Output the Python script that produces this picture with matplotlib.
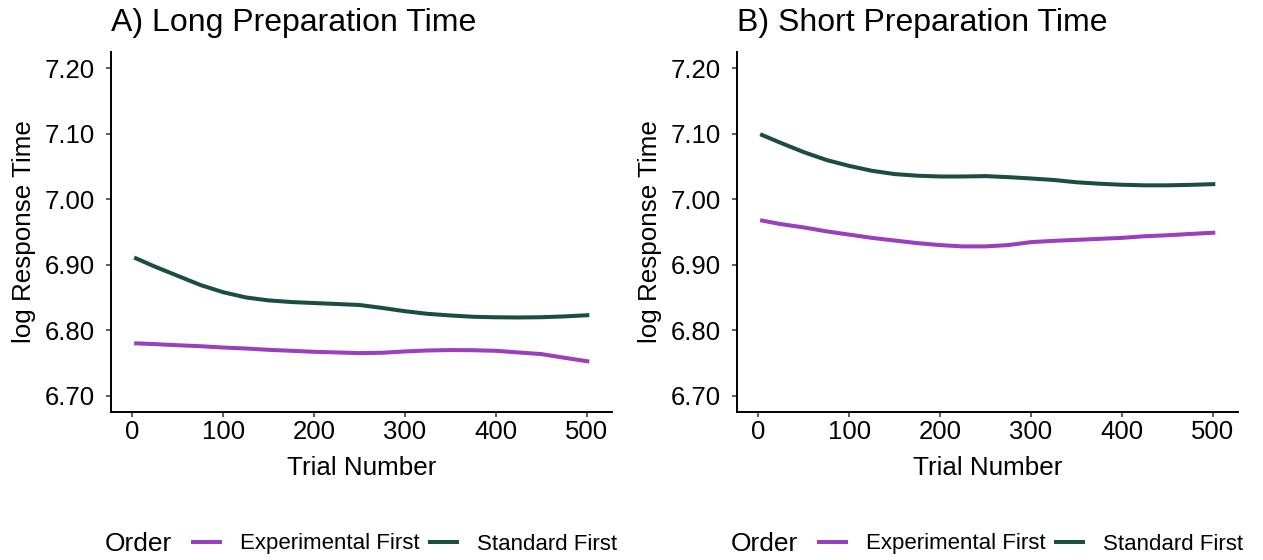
import matplotlib
matplotlib.use("Agg")
import matplotlib.pyplot as plt
from matplotlib.lines import Line2D

plt.rcParams["font.family"] = ["Liberation Sans", "DejaVu Sans"]

# Smoothed log response time by trial number
trials = [2, 25, 50, 75, 100, 125, 150, 175, 200, 225, 250, 275, 300,
          325, 350, 375, 400, 425, 450, 475, 503]

long_experimental = [6.780, 6.7787, 6.777, 6.7755, 6.7735, 6.772, 6.770, 6.7685,
                     6.767, 6.766, 6.765, 6.7655, 6.7675, 6.769, 6.7696, 6.7694,
                     6.7685, 6.766, 6.7635, 6.758, 6.752]
long_standard = [6.911, 6.897, 6.883, 6.869, 6.858, 6.850, 6.8455, 6.843, 6.8415,
                 6.840, 6.8385, 6.834, 6.829, 6.825, 6.8225, 6.8205, 6.8197,
                 6.8194, 6.8198, 6.821, 6.823]
short_experimental = [6.968, 6.962, 6.957, 6.951, 6.946, 6.941, 6.937, 6.933,
                      6.930, 6.928, 6.928, 6.930, 6.9345, 6.9365, 6.938, 6.9395,
                      6.941, 6.9435, 6.945, 6.947, 6.949]
short_standard = [7.0994, 7.086, 7.072, 7.060, 7.051, 7.0435, 7.0385, 7.036,
                  7.0348, 7.0348, 7.0354, 7.0338, 7.0318, 7.0295, 7.026, 7.0238,
                  7.0222, 7.0213, 7.0213, 7.022, 7.0232]

panel_titles = ["A) Long Preparation Time", "B) Short Preparation Time"]
order_labels = ["Experimental First", "Standard First"]
order_colors = ["#9A3FBE", "#1B4D43"]
x_ticks = [0, 100, 200, 300, 400, 500]
y_ticks = [6.70, 6.80, 6.90, 7.00, 7.10, 7.20]

W, H = 1263, 560
fig = plt.figure(figsize=(W / 100, H / 100), dpi=100)

panels = [
    (111, [long_experimental, long_standard]),
    (737, [short_experimental, short_standard]),
]

for (left_px, series), title in zip(panels, panel_titles):
    ax = fig.add_axes([left_px / W, 1 - 412 / H, 501 / W, 360 / H])
    for vals, color in zip(series, order_colors):
        ax.plot(trials, vals, color=color, lw=2.9, solid_capstyle="butt")
    ax.set_xlim(-23.5, 528)
    ax.set_ylim(6.675, 7.225)
    ax.set_xticks(x_ticks)
    ax.set_yticks(y_ticks)
    ax.set_yticklabels([f"{v:.2f}" for v in y_ticks])
    for side in ("top", "right"):
        ax.spines[side].set_visible(False)
    for side in ("left", "bottom"):
        ax.spines[side].set_linewidth(1.4)
        ax.spines[side].set_color("black")
    ax.tick_params(axis="both", length=3.5, width=1.1, color="#333333",
                   labelsize=18.5, labelcolor="black")
    ax.tick_params(axis="y", pad=8)
    ax.tick_params(axis="x", pad=2.5)
    ax.set_xlabel("Trial Number", fontsize=18.7, labelpad=8.5)
    ax.set_ylabel("log Response Time", fontsize=18.7)
    ax.yaxis.set_label_coords(-0.15, 0.5)
    ax.set_title(title, loc="left", fontsize=23, pad=15)

    # legend row beneath the panel
    handles = [Line2D([], [], color=c, lw=2.9, solid_capstyle="butt")
               for c in order_colors]
    key_left = left_px + 80
    fig.text((left_px - 6) / W, 1 - 544 / H, "Order", fontsize=19,
             ha="left", va="center")
    fig.legend(handles, order_labels, loc="center left",
               bbox_to_anchor=(key_left / W, 1 - 544 / H),
               ncol=2, frameon=False, fontsize=16, handlelength=1.4,
               handletextpad=0.8, columnspacing=0.37, borderpad=0,
               borderaxespad=0)

fig.savefig("out.png", dpi=100)
